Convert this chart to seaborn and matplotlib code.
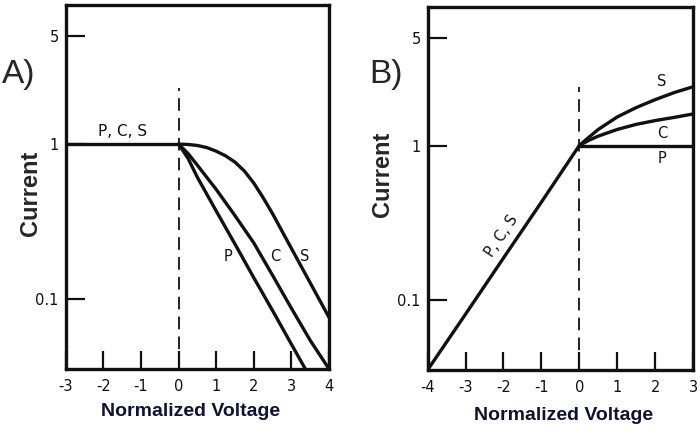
import pandas as pd
import matplotlib
matplotlib.use("Agg")
import matplotlib.pyplot as plt
import seaborn as sns

sns.set_style("ticks")
plt.rcParams['font.family'] = ['DejaVu Sans']
plt.rcParams['axes.unicode_minus'] = False

# --- Panel A: current vs normalized voltage (falling side) ---
a_flat_x = [-3, -2, -1, 0]
a_flat_y = [1, 1, 1, 1]
a_p_x = [0, 0.25, 0.5, 1, 1.5, 2, 2.5, 3, 3.37]
a_p_y = [1, 0.81, 0.61, 0.37, 0.226, 0.137, 0.084, 0.051, 0.0353]
a_c_x = [0, 0.25, 0.5, 0.75, 1, 1.5, 2, 2.5, 3, 3.5, 4]
a_c_y = [1, 0.87, 0.73, 0.61, 0.51, 0.345, 0.23, 0.142, 0.087, 0.054, 0.0353]
a_s_x = [0, 0.25, 0.5, 0.75, 1, 1.25, 1.5, 1.75, 2, 2.25, 2.5, 3, 3.5, 4]
a_s_y = [1, 0.995, 0.98, 0.95, 0.90, 0.84, 0.765, 0.67, 0.56, 0.45, 0.355,
         0.212, 0.127, 0.076]

# --- Panel B: current vs normalized voltage (rising side) ---
b_pcs_x = [-4, -3, -2, -1, 0]
b_pcs_y = [0.0353, 0.081, 0.187, 0.43, 1]
b_p_x = [0, 1, 2, 3]
b_p_y = [1, 1, 1, 1]
b_c_x = [0, 0.25, 0.5, 1, 1.5, 2, 2.5, 3]
b_c_y = [1, 1.08, 1.15, 1.27, 1.37, 1.45, 1.52, 1.6]
b_s_x = [0, 0.25, 0.5, 1, 1.5, 2, 2.5, 3]
b_s_y = [1, 1.13, 1.27, 1.53, 1.76, 1.98, 2.2, 2.4]

y_ticks = [0.1, 1, 5]
y_tick_labels = ['0.1', '1', '5']
a_x_ticks = [-3, -2, -1, 0, 1, 2, 3, 4]
b_x_ticks = [-4, -3, -2, -1, 0, 1, 2, 3]

ylim = (0.0353, 7.9)
lw = 2.4
ink = '#111111'

fig = plt.figure(figsize=(7, 4.29), dpi=100)
ax_a = fig.add_axes([0.094, 0.140, 0.376, 0.848])
ax_b = fig.add_axes([0.611, 0.138, 0.379, 0.846])


def draw(ax, x, y):
    df = pd.DataFrame({'v': x, 'i': y})
    sns.lineplot(data=df, x='v', y='i', ax=ax, color=ink, linewidth=lw,
                 estimator=None, sort=False, solid_joinstyle='round',
                 solid_capstyle='round')


def style_axes(ax, xticks):
    ax.set_yscale('log')
    ax.set_ylim(*ylim)
    ax.set_xlim(xticks[0], xticks[-1])
    ax.set_xticks(xticks)
    ax.set_xticklabels([str(t) for t in xticks])
    ax.set_yticks(y_ticks)
    ax.set_yticklabels(y_tick_labels)
    ax.minorticks_off()
    ax.set_xlabel('')
    ax.set_ylabel('')
    for sp in ax.spines.values():
        sp.set_visible(True)
        sp.set_linewidth(2.4)
        sp.set_color(ink)
    ax.tick_params(axis='x', direction='in', length=13, width=1.6,
                   pad=7, labelsize=10.5, colors=ink)
    ax.tick_params(axis='y', direction='in', length=14, width=1.6,
                   pad=5, labelsize=10.5, colors=ink)


# Panel A
draw(ax_a, a_flat_x, a_flat_y)
draw(ax_a, a_p_x, a_p_y)
draw(ax_a, a_c_x, a_c_y)
draw(ax_a, a_s_x, a_s_y)
ax_a.plot([0, 0], [ylim[0], 2.3], color=ink, lw=1.3, ls=(0, (7, 4)))
style_axes(ax_a, a_x_ticks)
ax_a.text(-1.5, 1.08, 'P, C, S', ha='center', va='bottom', fontsize=11, color=ink)
ax_a.text(1.31, 0.187, 'P', ha='center', va='center', fontsize=10.5, color=ink)
ax_a.text(2.56, 0.187, 'C', ha='center', va='center', fontsize=10.5, color=ink)
ax_a.text(3.36, 0.187, 'S', ha='center', va='center', fontsize=10.5, color=ink)

# Panel B
draw(ax_b, b_pcs_x, b_pcs_y)
draw(ax_b, b_p_x, b_p_y)
draw(ax_b, b_c_x, b_c_y)
draw(ax_b, b_s_x, b_s_y)
ax_b.plot([0, 0], [ylim[0], 2.4], color=ink, lw=1.3, ls=(0, (7, 4)))
style_axes(ax_b, b_x_ticks)
ax_b.text(-2.05, 0.26, 'P, C, S', ha='center', va='center', fontsize=10.5,
          rotation=56, color=ink)
ax_b.text(2.18, 2.58, 'S', ha='center', va='center', fontsize=10.5, color=ink)
ax_b.text(2.18, 1.19, 'C', ha='center', va='center', fontsize=10.5, color=ink)
ax_b.text(2.18, 0.82, 'P', ha='center', va='center', fontsize=10.5, color=ink)

# panel letters and axis titles
fig.text(2 / 700, 1 - 75 / 429, 'A)', fontsize=24, family='Liberation Sans',
         ha='left', va='center')
fig.text(369 / 700, 1 - 75 / 429, 'B)', fontsize=24, family='Liberation Sans',
         ha='left', va='center')
fig.text(30 / 700, 1 - 193 / 429, 'Current', fontsize=17, fontweight='bold',
         family='Liberation Sans', rotation=90, ha='center', va='center')
fig.text(383 / 700, 1 - 174 / 429, 'Current', fontsize=17, fontweight='bold',
         family='Liberation Sans', rotation=90, ha='center', va='center')
fig.text(191 / 700, 1 - 412 / 429, 'Normalized Voltage', fontsize=14,
         fontweight='bold', family='Liberation Sans', color='#111133',
         ha='center', va='center')
fig.text(564 / 700, 1 - 415 / 429, 'Normalized Voltage', fontsize=14,
         fontweight='bold', family='Liberation Sans', color='#111133',
         ha='center', va='center')

plt.savefig('out.png', dpi=100)
